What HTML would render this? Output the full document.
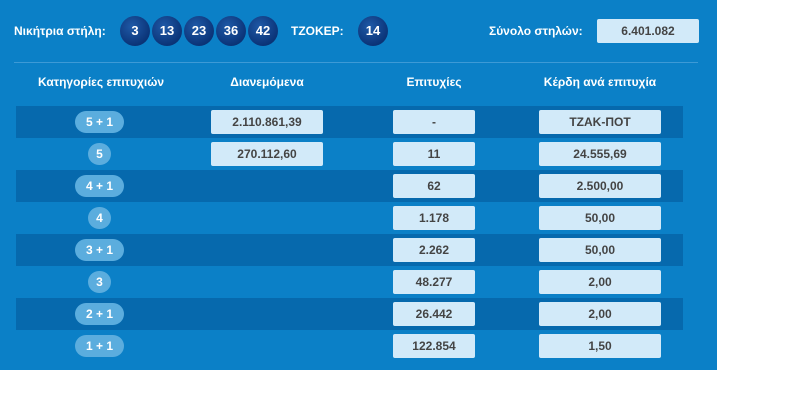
<!DOCTYPE html>
<html><head><meta charset="utf-8"><style>
body{margin:0;width:796px;height:404px;background:#fff;font-family:"Liberation Sans",sans-serif;position:relative;overflow:hidden}
.panel{position:absolute;left:0;top:0;width:717px;height:370px;background:#0b80c7}
.t{position:absolute;color:#fff;font-weight:bold;font-size:12px;white-space:nowrap}
.ball{position:absolute;top:16px;width:30px;height:30px;border-radius:50%;background:radial-gradient(circle at 40% 35%,#1f5aa8,#0b3478 70%,#082a62);color:#fff;font-weight:bold;font-size:13px;text-align:center;line-height:30px}
.sep{position:absolute;left:14px;top:62px;width:684px;height:1px;background:#3d9ad6}
.row{position:absolute;left:16px;width:667px;height:32px}
.dark{background:#0669ad}
.box{position:absolute;height:24px;background:#d2eaf9;border-radius:2px;color:#444;font-weight:bold;font-size:12px;text-align:center;line-height:24px}
.pill{position:absolute;height:22px;background:#5badde;border-radius:11px;color:#fff;font-weight:bold;font-size:12px;text-align:center;line-height:22px}
.h{position:absolute;top:75px;color:#fff;font-weight:bold;font-size:12px;text-align:center}
</style></head><body>
<div class="panel">
<div class="t" style="left:14px;top:24px">Νικήτρια στήλη:</div>
<div class="ball" style="left:120px">3</div>
<div class="ball" style="left:152px">13</div>
<div class="ball" style="left:184px">23</div>
<div class="ball" style="left:216px">36</div>
<div class="ball" style="left:248px">42</div>
<div class="t" style="left:291px;top:24px">ΤΖΟΚΕΡ:</div>
<div class="ball" style="left:358px">14</div>
<div class="t" style="left:489px;top:24px">Σύνολο στηλών:</div>
<div class="box" style="left:597px;top:19px;width:102px;">6.401.082</div>
<div class="sep"></div>
<div class="h" style="left:16px;width:170px">Κατηγορίες επιτυχιών</div>
<div class="h" style="left:211px;width:112px">Διανεμόμενα</div>
<div class="h" style="left:393px;width:82px">Επιτυχίες</div>
<div class="h" style="left:539px;width:122px">Κέρδη ανά επιτυχία</div>

<div class="row dark" style="top:106px"></div>
<div class="row" style="top:138px"></div>
<div class="row dark" style="top:170px"></div>
<div class="row" style="top:202px"></div>
<div class="row dark" style="top:234px"></div>
<div class="row" style="top:266px"></div>
<div class="row dark" style="top:298px"></div>
<div class="row" style="top:330px"></div>

<div class="pill" style="left:75px;top:111px;width:49px">5 + 1</div>
<div class="pill" style="left:88px;top:143px;width:23px">5</div>
<div class="pill" style="left:75px;top:175px;width:49px">4 + 1</div>
<div class="pill" style="left:88px;top:207px;width:23px">4</div>
<div class="pill" style="left:75px;top:239px;width:49px">3 + 1</div>
<div class="pill" style="left:88px;top:271px;width:23px">3</div>
<div class="pill" style="left:75px;top:303px;width:49px">2 + 1</div>
<div class="pill" style="left:75px;top:335px;width:49px">1 + 1</div>

<div class="box" style="left:211px;top:110px;width:112px">2.110.861,39</div>
<div class="box" style="left:211px;top:142px;width:112px">270.112,60</div>

<div class="box" style="left:393px;top:110px;width:82px">-</div>
<div class="box" style="left:393px;top:142px;width:82px">11</div>
<div class="box" style="left:393px;top:174px;width:82px">62</div>
<div class="box" style="left:393px;top:206px;width:82px">1.178</div>
<div class="box" style="left:393px;top:238px;width:82px">2.262</div>
<div class="box" style="left:393px;top:270px;width:82px">48.277</div>
<div class="box" style="left:393px;top:302px;width:82px">26.442</div>
<div class="box" style="left:393px;top:334px;width:82px">122.854</div>

<div class="box" style="left:539px;top:110px;width:122px">ΤΖΑΚ-ΠΟΤ</div>
<div class="box" style="left:539px;top:142px;width:122px">24.555,69</div>
<div class="box" style="left:539px;top:174px;width:122px">2.500,00</div>
<div class="box" style="left:539px;top:206px;width:122px">50,00</div>
<div class="box" style="left:539px;top:238px;width:122px">50,00</div>
<div class="box" style="left:539px;top:270px;width:122px">2,00</div>
<div class="box" style="left:539px;top:302px;width:122px">2,00</div>
<div class="box" style="left:539px;top:334px;width:122px">1,50</div>
</div>
</body></html>
